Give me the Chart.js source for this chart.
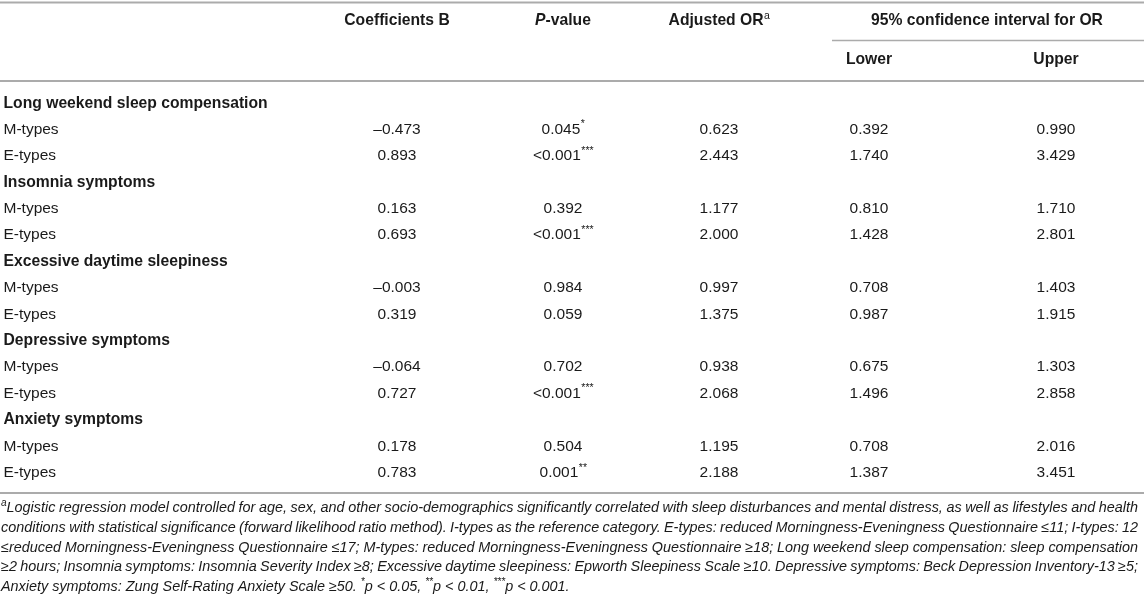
<!DOCTYPE html>
<html><head><meta charset="utf-8">
<script src="https://cdn.jsdelivr.net/npm/chart.js@4.4.1/dist/chart.umd.min.js"></script>
<style>html,body{margin:0;padding:0;background:#fff}#wrap{position:relative;width:1144px;height:603px}</style>
</head><body><div id="wrap"><canvas id="c"></canvas></div>
<script>
// ---------- DATA ----------
const groups = ["Long weekend sleep compensation","Insomnia symptoms","Excessive daytime sleepiness","Depressive symptoms","Anxiety symptoms"];
const subgroups = ["M-types","E-types"];
const coefB   = [-0.473, 0.893, 0.163, 0.693, -0.003, 0.319, -0.064, 0.727, 0.178, 0.783];
const pValues = ["0.045","<0.001","0.392","<0.001","0.984","0.059","0.702","<0.001","0.504","0.001"];
const pStars  = ["*","***","","***","","","","***","","**"];
const adjOR   = [0.623, 2.443, 1.177, 2.000, 0.997, 1.375, 0.938, 2.068, 1.195, 2.188];
const ciLower = [0.392, 1.740, 0.810, 1.428, 0.708, 0.987, 0.675, 1.496, 0.708, 1.387];
const ciUpper = [0.990, 3.429, 1.710, 2.801, 1.403, 1.915, 1.303, 2.858, 2.016, 3.451];
const columnHeaders = ["Coefficients B","P-value","Adjusted OR","Lower","Upper"];
const spanHeader = "95% confidence interval for OR";
const footnoteLines = [
  [{t:"a",sup:true},{t:"Logistic regression model controlled for age, sex, and other socio-demographics significantly correlated with sleep disturbances and mental distress, as well as lifestyles and health"}],
  [{t:"conditions with statistical significance (forward likelihood ratio method). I-types as the reference category. E-types: reduced Morningness-Eveningness Questionnaire \u226411; I-types: 12"}],
  [{t:"\u2264reduced Morningness-Eveningness Questionnaire \u226417; M-types: reduced Morningness-Eveningness Questionnaire \u226518; Long weekend sleep compensation: sleep compensation"}],
  [{t:"\u22652 hours; Insomnia symptoms: Insomnia Severity Index \u22658; Excessive daytime sleepiness: Epworth Sleepiness Scale \u226510. Depressive symptoms: Beck Depression Inventory-13 \u22655;"}],
  [{t:"Anxiety symptoms: Zung Self-Rating Anxiety Scale \u226550. "},{t:"*",sup:true},{t:"p < 0.05, "},{t:"**",sup:true},{t:"p < 0.01, "},{t:"***",sup:true},{t:"p < 0.001."}]
];

// ---------- LAYOUT ----------
const FONT = '"Liberation Sans", Arial, Helvetica, sans-serif';
const TEXT = '#1a1a1a';
const RULE = '#ababab';
const colX = [397, 563, 719, 869, 1056];
const BOLD_PX = 15.7, REG_PX = 15.5, NOTE_PX = 14.4;

const rows = [];
groups.forEach((g, gi) => {
  rows.push({label: g, bold: true, idx: null});
  subgroups.forEach((s, si) => rows.push({label: s, bold: false, idx: gi * 2 + si}));
});
const rowKeys = rows.map((r, i) => 'r' + i);

const fmt = v => (v < 0 ? '\u2013' : '') + Math.abs(v).toFixed(3);
const cellText = [
  i => ({t: fmt(coefB[i])}),
  i => ({t: pValues[i], sup: pStars[i]}),
  i => ({t: fmt(adjOR[i])}),
  i => ({t: fmt(ciLower[i])}),
  i => ({t: fmt(ciUpper[i])})
];

const datasets = colX.map((cx, c) => ({
  label: columnHeaders[c],
  data: rows.map((r, ri) => ({r, ri})).filter(o => o.r.idx !== null)
            .map(o => ({x: cx, y: rowKeys[o.ri], i: o.r.idx})),
  pointRadius: 0, pointHoverRadius: 0, showLine: false
}));

function hline(ctx, x1, x2, y, w) {
  ctx.save(); ctx.strokeStyle = RULE; ctx.lineWidth = w || 1.6;
  ctx.beginPath(); ctx.moveTo(x1, y); ctx.lineTo(x2, y); ctx.stroke(); ctx.restore();
}

function drawRuns(ctx, runs, x, y, size, italic, justifyTo) {
  const base = (italic ? 'italic ' : '') + size + 'px ' + FONT;
  const supF = (italic ? 'italic ' : '') + (size * 0.7).toFixed(1) + 'px ' + FONT;
  let natural = 0, spaces = 0;
  runs.forEach(r => {
    ctx.font = r.sup ? supF : base;
    natural += ctx.measureText(r.t).width;
    if (!r.sup) spaces += (r.t.match(/ /g) || []).length;
  });
  const extra = (justifyTo && spaces) ? (justifyTo - x - natural) / spaces : 0;
  ctx.textBaseline = 'middle'; ctx.textAlign = 'left';
  runs.forEach(r => {
    if (r.sup) {
      ctx.font = supF; ctx.fillText(r.t, x, y - size * 0.33);
      x += ctx.measureText(r.t).width; return;
    }
    ctx.font = base;
    const parts = r.t.split(' ');
    parts.forEach((p, k) => {
      ctx.fillText(p, x, y);
      x += ctx.measureText(p).width;
      if (k < parts.length - 1) x += ctx.measureText(' ').width + extra;
    });
  });
}

const tablePlugin = {
  id: 'tablePlugin',
  afterDraw(chart) {
    const ctx = chart.ctx, xs = chart.scales.x, ys = chart.scales.y;
    const W = chart.width;
    ctx.save();
    ctx.fillStyle = TEXT;
    // rules
    hline(ctx, 0, W, 2.5, 2);
    hline(ctx, xs.getPixelForValue(832), W, 40.5, 1.6);
    hline(ctx, 0, W, 81, 1.8);
    hline(ctx, 0, W, 493, 1.8);
    // headers
    ctx.textBaseline = 'middle'; ctx.textAlign = 'center';
    const bold = 'bold ' + BOLD_PX + 'px ' + FONT;
    const hy = 21;
    ctx.font = bold;
    ctx.fillText(columnHeaders[0], xs.getPixelForValue(colX[0]), hy);
    {
      const a = 'P', b = columnHeaders[1].slice(1);
      ctx.font = 'italic ' + bold; const wa = ctx.measureText(a).width;
      ctx.font = bold; const wb = ctx.measureText(b).width;
      const x0 = xs.getPixelForValue(colX[1]) - (wa + wb) / 2;
      ctx.textAlign = 'left';
      ctx.font = 'italic ' + bold; ctx.fillText(a, x0, hy);
      ctx.font = bold; ctx.fillText(b, x0 + wa, hy);
    }
    {
      ctx.font = bold; const wa = ctx.measureText(columnHeaders[2]).width;
      ctx.font = '10.5px ' + FONT; const wb = ctx.measureText('a').width;
      const x0 = xs.getPixelForValue(colX[2]) - (wa + wb) / 2;
      ctx.textAlign = 'left';
      ctx.font = bold; ctx.fillText(columnHeaders[2], x0, hy);
      ctx.font = '10.5px ' + FONT; ctx.fillText('a', x0 + wa + 0.5, hy - 5);
    }
    ctx.textAlign = 'center'; ctx.font = bold;
    ctx.fillText(spanHeader, xs.getPixelForValue(987), hy);
    ctx.fillText(columnHeaders[3], xs.getPixelForValue(colX[3]), 59.5);
    ctx.fillText(columnHeaders[4], xs.getPixelForValue(colX[4]), 59.5);
    // row labels
    ctx.textAlign = 'left';
    rows.forEach((r, i) => {
      ctx.font = r.bold ? bold : (REG_PX + 'px ' + FONT);
      ctx.fillText(r.label, xs.getPixelForValue(3.5), ys.getPixelForValue(i));
    });
    // cells from dataset elements
    const reg = REG_PX + 'px ' + FONT, sup = '10.5px ' + FONT;
    chart.data.datasets.forEach((ds, c) => {
      const meta = chart.getDatasetMeta(c);
      meta.data.forEach((el, k) => {
        const cell = cellText[c](ds.data[k].i);
        ctx.font = reg;
        const w1 = ctx.measureText(cell.t).width;
        let w2 = 0;
        if (cell.sup) { ctx.font = sup; w2 = ctx.measureText(cell.sup).width; }
        const x0 = el.x - (w1 + w2) / 2;
        ctx.textAlign = 'left';
        ctx.font = reg; ctx.fillText(cell.t, x0, el.y);
        if (cell.sup) { ctx.font = sup; ctx.fillText(cell.sup, x0 + w1 + 0.5, el.y - 5); }
      });
    });
    // footnotes
    footnoteLines.forEach((runs, k) => {
      drawRuns(ctx, runs, 1, 508 + k * 19.8, NOTE_PX, true, k < 4 ? 1138 : null);
    });
    ctx.restore();
  }
};

new Chart(document.getElementById('c'), {
  type: 'scatter',
  data: {labels: rowKeys, datasets},
  options: {
    responsive: true, maintainAspectRatio: false, animation: false,
    layout: {padding: {top: 90, bottom: 117, left: 0, right: 0}},
    plugins: {legend: {display: false}, tooltip: {enabled: false}},
    events: [],
    scales: {
      x: {type: 'linear', min: 0, max: 1144, display: false},
      y: {type: 'category', labels: rowKeys, offset: true, display: false}
    }
  },
  plugins: [tablePlugin]
});
</script></body></html>
